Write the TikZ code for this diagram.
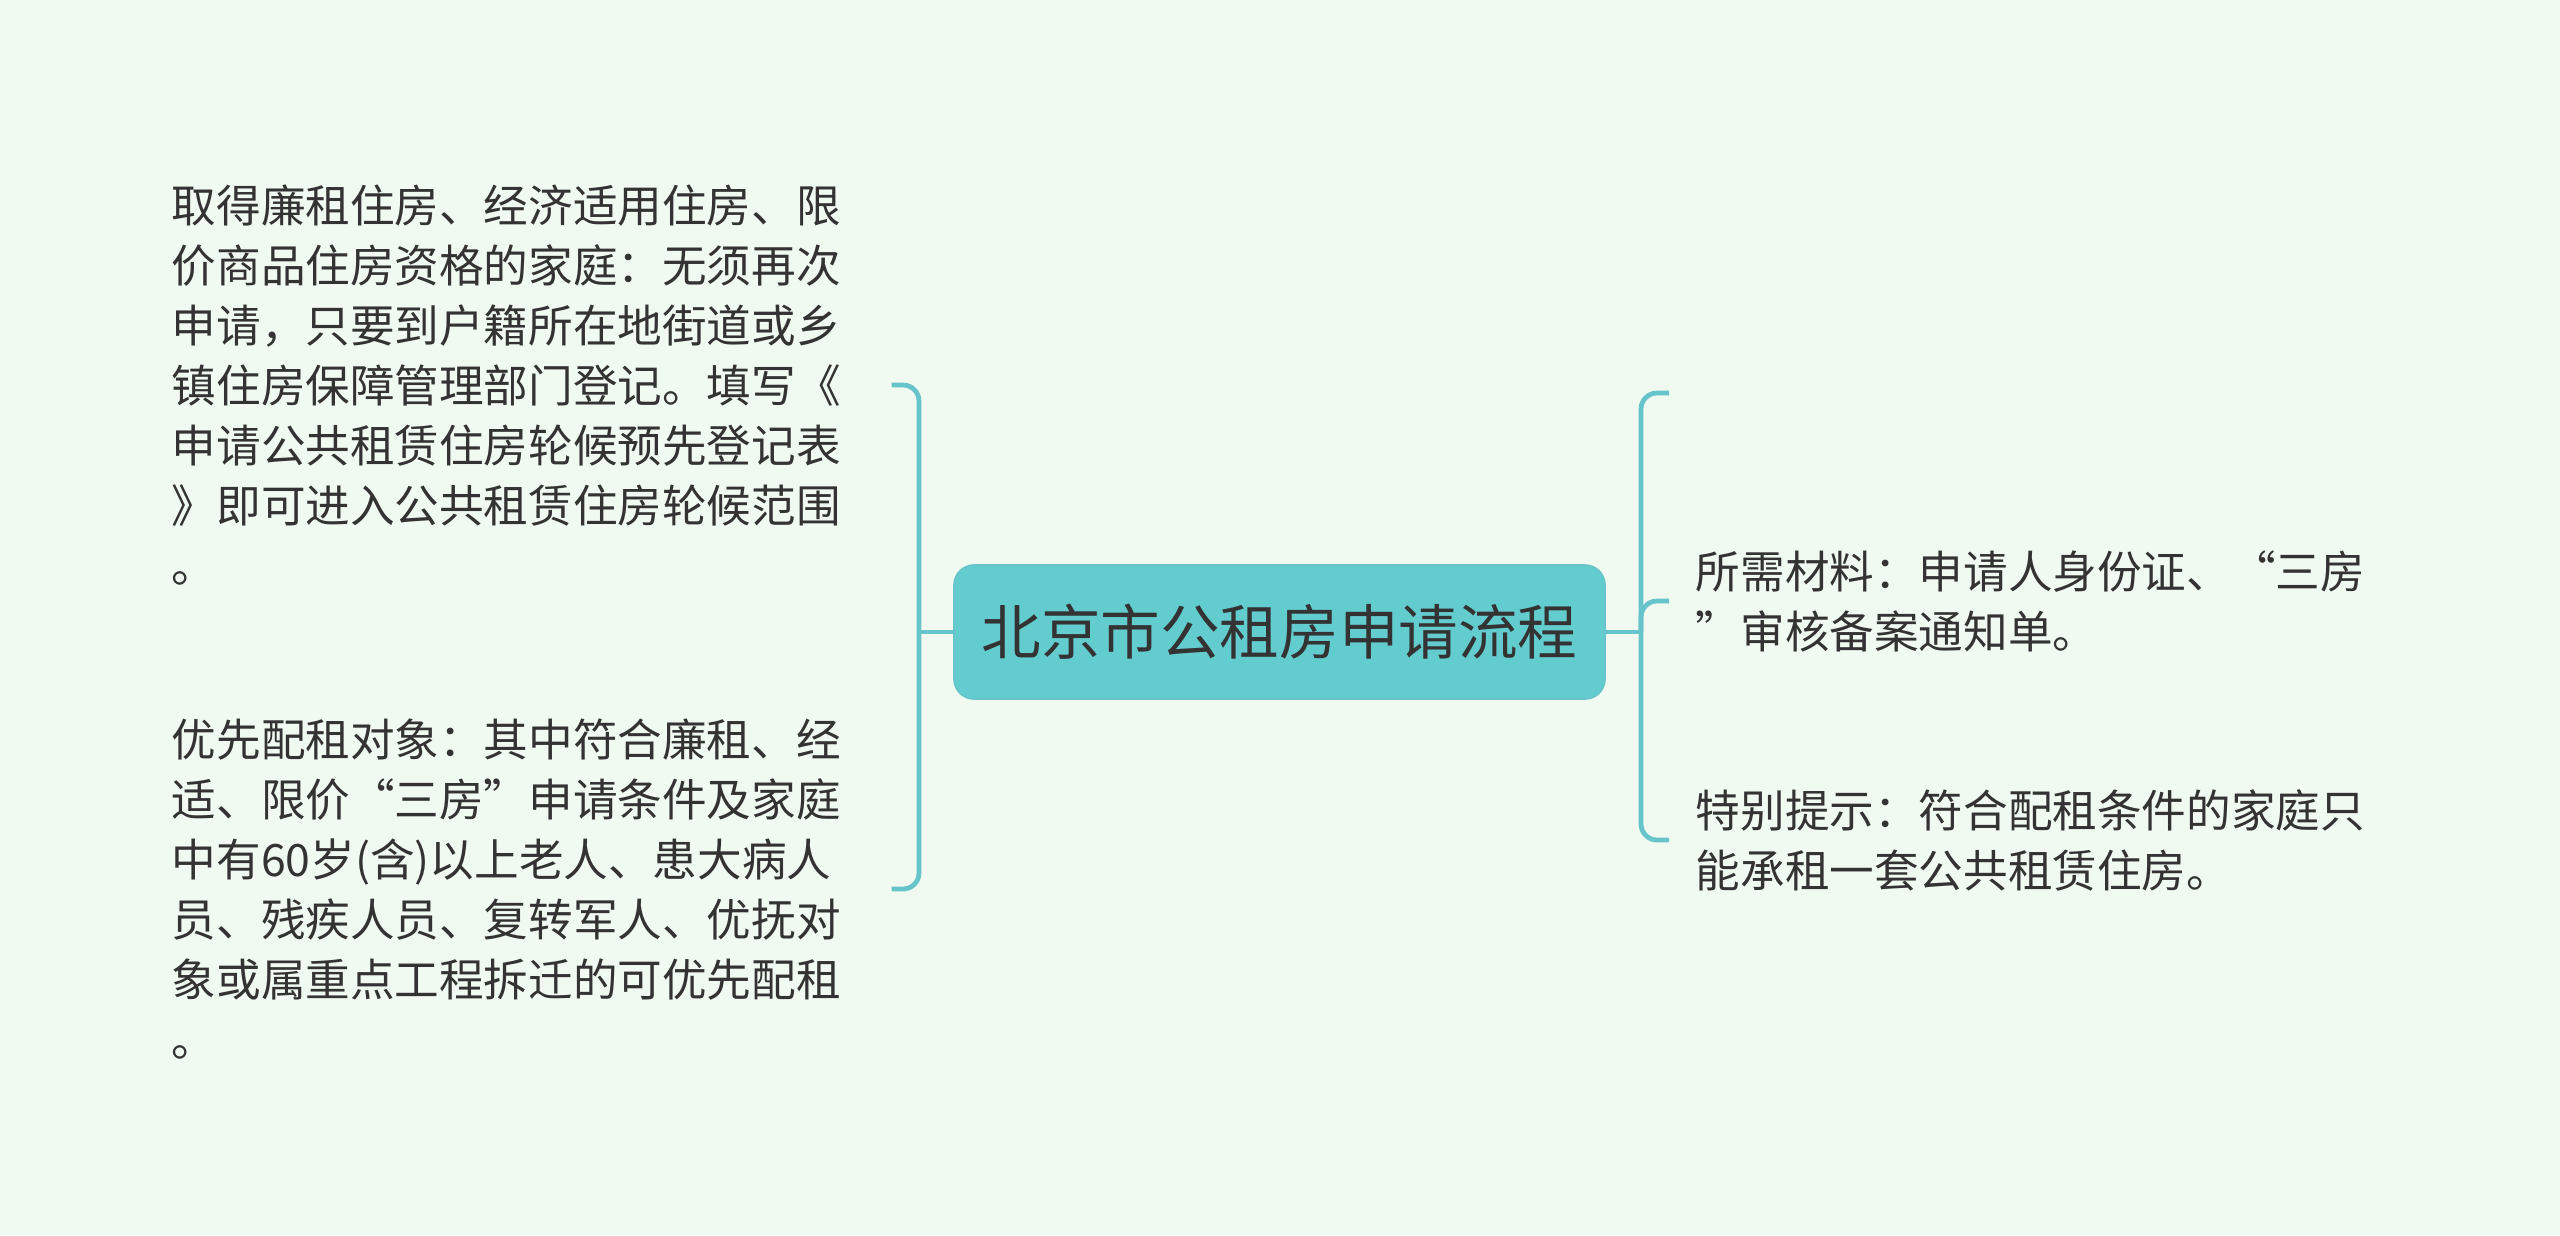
\documentclass[tikz,border=0pt]{standalone}
\usepackage{fontspec}
\setmainfont{Noto Sans CJK SC}
\usepackage{xcolor}
\usetikzlibrary{positioning}
\definecolor{bgmint}{RGB}{240,250,240}
\definecolor{tealfill}{RGB}{99,204,206}
\definecolor{tealline}{RGB}{104,196,203}
\definecolor{inkgray}{RGB}{51,51,51}

\begin{document}
\begin{tikzpicture}[x=0.25pt,y=-0.25pt,
  root/.style={draw=tealline,fill=tealfill,rounded corners=5pt,
            minimum width=162.75pt,minimum height=33.5pt,
            font=\fontsize{14.9}{18}\selectfont,text=inkgray},
  leaf/.style={align=left,inner sep=0pt,anchor=west,
            font=\fontsize{11.15}{15}\selectfont,text=inkgray},
  link/.style={draw=tealline,line width=1.2pt,rounded corners=4pt}]
\fill[bgmint] (0,0) rectangle (2560,1235);
\useasboundingbox (0,0) rectangle (2560,1235);
\node[root] (title) at (1279.5,632) {北京市公租房申请流程};
\node[leaf] (apply) at (171,385) {取得廉租住房、经济适用住房、限\\
  价商品住房资格的家庭：无须再次\\ 申请，只要到户籍所在地街道或乡\\
  镇住房保障管理部门登记。填写《\\ 申请公共租赁住房轮候预先登记表\\
  》即可进入公共租赁住房轮候范围\\ 。};
\node[leaf] (priority) at (171,889) {优先配租对象：其中符合廉租、经\\
  适、限价“三房”申请条件及家庭\\ 中有60岁(含)以上老人、患大病人\\
  员、残疾人员、复转军人、优抚对\\ 象或属重点工程拆迁的可优先配租\\ 。};
\node[leaf] (papers) at (1695,601) {所需材料：申请人身份证、“三房\\
  ”审核备案通知单。};
\node[leaf] (notice) at (1695,840) {特别提示：符合配租条件的家庭只\\
  能承租一套公共租赁住房。};
\coordinate (lhub) at (919,632);
\coordinate (rhub) at (1641,632);
\coordinate (blank) at (1669,393);
\draw[link] (title.west) -- (lhub);
\draw[link] (lhub) |- ([xshift=12.5pt]apply.east);
\draw[link] (lhub) |- ([xshift=12.5pt]priority.east);
\draw[link] (title.east) -- (rhub);
\draw[link] (rhub) |- (blank);
\draw[link] (rhub) |- ([xshift=-6.5pt]papers.west);
\draw[link] (rhub) |- ([xshift=-6.5pt]notice.west);
\end{tikzpicture}
\end{document}
